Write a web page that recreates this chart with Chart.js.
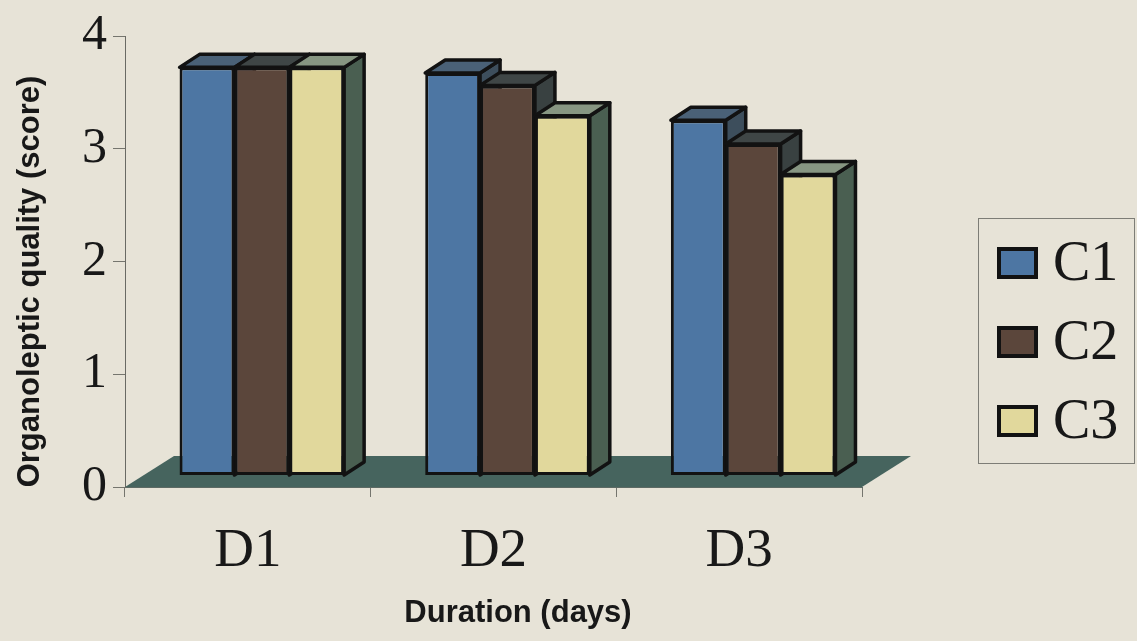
<!DOCTYPE html>
<html>
<head>
<meta charset="utf-8">
<script src="https://cdn.jsdelivr.net/npm/chart.js@4.4.1/dist/chart.umd.min.js"></script>
<style>
  html, body { margin: 0; padding: 0; background: #e7e3d7; }
  #wrap { width: 1137px; height: 641px; position: relative; }
</style>
</head>
<body>
<div id="wrap"><canvas id="chart"></canvas></div>
<script>
// Storage duration groups and the three treatments
const categories = ['D1', 'D2', 'D3'];
const seriesNames = ['C1', 'C2', 'C3'];
const c1Values = [3.62, 3.57, 3.15];
const c2Values = [3.62, 3.46, 2.94];
const c3Values = [3.62, 3.19, 2.67];
const yMin = 0;
const yMax = 4;
const yStep = 1;
const yTitle = 'Organoleptic quality (score)';
const xTitle = 'Duration (days)';

// Face shading of each series: front, top and right side
const faceColors = [
  { front: '#4d76a3', top: '#4a6177', side: '#3d4e5c' },
  { front: '#5b463b', top: '#3f4646', side: '#394141' },
  { front: '#e1d89c', top: '#879682', side: '#4a5f51' }
];
const OUTLINE = '#121212';
const FLOOR_COLOR = '#46645e';
const BG = '#e7e3d7';
const TEXT = '#181818';
const SERIF = '"Liberation Serif", "Times New Roman", serif';
const SANS = '"Liberation Sans", Arial, sans-serif';

// Oblique projection offsets for the pseudo-3D look
const BAR_SHIFT = { x: 14, y: -11.5 };
const BAR_DEPTH = { x: 20, y: -13 };
const FLOOR_DEPTH = { x: 49, y: -31 };

const background = {
  id: 'background',
  beforeDraw(chart) {
    const { ctx, width, height } = chart;
    ctx.save();
    ctx.fillStyle = BG;
    ctx.fillRect(0, 0, width, height);
    ctx.restore();
  }
};

function polygon(ctx, pts, fill) {
  ctx.beginPath();
  ctx.moveTo(pts[0][0], pts[0][1]);
  for (let i = 1; i < pts.length; i++) ctx.lineTo(pts[i][0], pts[i][1]);
  ctx.closePath();
  ctx.fillStyle = fill;
  ctx.fill();
  ctx.stroke();
}

// Floor plus column faces, painted left to right so right-hand bars hide the sides they touch
const columns3d = {
  id: 'columns3d',
  beforeDatasetsDraw(chart) {
    const ctx = chart.ctx;
    const xs = chart.scales.x, ys = chart.scales.y;
    const y0 = ys.getPixelForValue(0);
    const l = xs.left, r = xs.right;

    ctx.save();
    ctx.beginPath();
    ctx.moveTo(l, y0);
    ctx.lineTo(r, y0);
    ctx.lineTo(r + FLOOR_DEPTH.x, y0 + FLOOR_DEPTH.y);
    ctx.lineTo(l + FLOOR_DEPTH.x, y0 + FLOOR_DEPTH.y);
    ctx.closePath();
    ctx.fillStyle = FLOOR_COLOR;
    ctx.fill();
    ctx.restore();

    const metas = chart.data.datasets.map((d, i) => chart.getDatasetMeta(i));
    for (let k = 0; k < categories.length; k++) {
      metas.forEach((meta, j) => {
        const bar = meta.data[k];
        if (!bar) return;
        const { x, y, base, width } = bar.getProps(['x', 'y', 'base', 'width'], true);
        const xl = x - width / 2, xr = x + width / 2;
        ctx.save();
        ctx.translate(BAR_SHIFT.x, BAR_SHIFT.y);
        ctx.lineWidth = 3.5;
        ctx.lineJoin = 'round';
        ctx.strokeStyle = OUTLINE;
        polygon(ctx, [
          [xr, y], [xr + BAR_DEPTH.x, y + BAR_DEPTH.y],
          [xr + BAR_DEPTH.x, base + BAR_DEPTH.y], [xr, base]
        ], faceColors[j].side);
        polygon(ctx, [
          [xl, y], [xl + BAR_DEPTH.x, y + BAR_DEPTH.y],
          [xr + BAR_DEPTH.x, y + BAR_DEPTH.y], [xr, y]
        ], faceColors[j].top);
        bar.draw(ctx);
        ctx.restore();
      });
    }
    return false;
  }
};

// Axis titles and the boxed legend
const annotations = {
  id: 'annotations',
  afterDraw(chart) {
    const ctx = chart.ctx;
    const xs = chart.scales.x, ys = chart.scales.y;
    ctx.save();
    ctx.fillStyle = TEXT;
    ctx.font = 'bold 31px ' + SANS;
    ctx.textAlign = 'center';
    ctx.textBaseline = 'middle';
    ctx.fillText(xTitle, (xs.left + xs.right + FLOOR_DEPTH.x) / 2, 613);

    ctx.save();
    ctx.translate(30, (ys.top + ys.bottom) / 2 + 20);
    ctx.rotate(-Math.PI / 2);
    ctx.fillText(yTitle, 0, 0);
    ctx.restore();

    // legend frame
    const box = { l: 978, t: 218, r: 1134, b: 463 };
    ctx.strokeStyle = '#7d7d76';
    ctx.lineWidth = 1;
    ctx.strokeRect(box.l + 0.5, box.t + 0.5, box.r - box.l, box.b - box.t);

    const rowY = [263, 342, 421];
    chart.data.datasets.forEach((ds, i) => {
      const cy = rowY[i];
      ctx.fillStyle = OUTLINE;
      ctx.fillRect(997, cy - 16, 41, 32);
      ctx.fillStyle = ds.backgroundColor;
      ctx.fillRect(1001, cy - 12, 33, 24);
      ctx.fillStyle = TEXT;
      ctx.font = '56px ' + SERIF;
      ctx.textAlign = 'left';
      ctx.textBaseline = 'middle';
      ctx.fillText(ds.label, 1053, cy + 2);
    });
    ctx.restore();
  }
};

const datasets = [c1Values, c2Values, c3Values].map((vals, i) => ({
  label: seriesNames[i],
  data: vals,
  backgroundColor: faceColors[i].front,
  borderColor: OUTLINE,
  borderWidth: 3,
  borderSkipped: false
}));

new Chart(document.getElementById('chart'), {
  type: 'bar',
  data: { labels: categories, datasets },
  options: {
    responsive: true,
    maintainAspectRatio: false,
    animation: false,
    layout: { padding: { top: 33, right: 275, left: 0, bottom: 0 } },
    datasets: { bar: { barPercentage: 1, categoryPercentage: 0.67 } },
    plugins: { legend: { display: false }, tooltip: { enabled: false } },
    scales: {
      x: {
        grid: { display: true, drawOnChartArea: false, drawTicks: true, tickLength: 10, color: '#75756e', offset: true },
        border: { display: true, color: '#5d6a64', width: 1 },
        ticks: { font: { family: SERIF, size: 55 }, color: TEXT, padding: 22 },
        afterFit(scale) { scale.height = 154; }
      },
      y: {
        min: yMin, max: yMax,
        ticks: { stepSize: yStep, font: { family: SERIF, size: 50 }, color: TEXT, padding: 6 },
        grid: { drawOnChartArea: false, drawTicks: true, tickLength: 12, color: '#75756e' },
        border: { display: true, color: '#6a6a64', width: 1 },
        afterFit(scale) { scale.width = 125; }
      }
    }
  },
  plugins: [background, columns3d, annotations]
});
</script>
</body>
</html>
